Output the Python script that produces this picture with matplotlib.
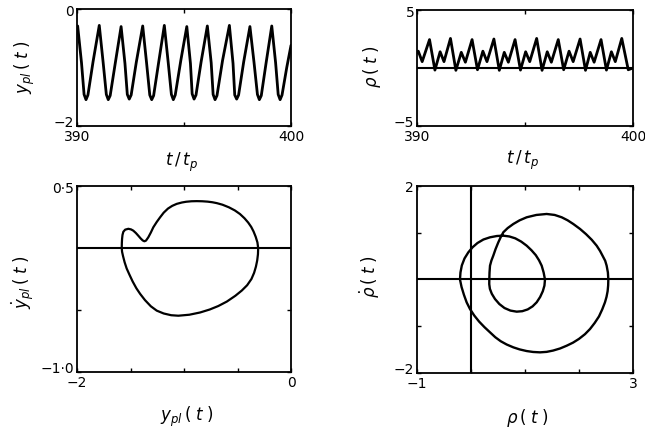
import numpy as np
import matplotlib.pyplot as plt
import matplotlib.transforms as mtransforms

plt.rcParams['font.family'] = ['DejaVu Sans']
plt.rcParams['mathtext.fontset'] = 'dejavusans'

# y_pl(t) time trace, t/t_p in [390, 400]
t_y = [390.00,
       390.03, 390.21, 390.33, 390.42, 390.51, 390.75,
       391.04, 391.22, 391.37, 391.46, 391.55, 391.79,
       392.06, 392.24, 392.35, 392.44, 392.53, 392.77,
       393.07, 393.25, 393.40, 393.49, 393.58, 393.82,
       394.08, 394.26, 394.41, 394.50, 394.59, 394.85,
       395.13, 395.30, 395.38, 395.47, 395.56, 395.80,
       396.09, 396.27, 396.36, 396.45, 396.54, 396.80,
       397.12, 397.29, 397.37, 397.46, 397.55, 397.79,
       398.08, 398.27, 398.43, 398.52, 398.61, 398.84,
       399.10, 399.28, 399.40, 399.49, 399.58, 399.80, 400.00]
y_pl = [-0.34,
        -0.29, -0.92, -1.46, -1.55, -1.47, -0.90,
        -0.28, -0.91, -1.46, -1.55, -1.48, -0.92,
        -0.30, -0.93, -1.46, -1.54, -1.47, -0.91,
        -0.29, -0.92, -1.47, -1.55, -1.48, -0.90,
        -0.28, -0.91, -1.46, -1.55, -1.47, -0.88,
        -0.30, -0.93, -1.45, -1.54, -1.47, -0.90,
        -0.29, -0.92, -1.46, -1.55, -1.48, -0.88,
        -0.28, -0.93, -1.47, -1.54, -1.47, -0.90,
        -0.30, -0.91, -1.46, -1.55, -1.48, -0.91,
        -0.29, -0.92, -1.46, -1.55, -1.47, -1.00, -0.62]

# rho(t) time trace
t_rho = [390.00, 390.06, 390.24,
         390.58, 390.83, 391.07, 391.25,
         391.55, 391.80, 392.05, 392.24,
         392.55, 392.80, 393.05, 393.24,
         393.56, 393.81, 394.04, 394.23,
         394.54, 394.79, 395.03, 395.22,
         395.54, 395.79, 396.03, 396.22,
         396.54, 396.79, 397.04, 397.23,
         397.55, 397.80, 398.02, 398.20,
         398.52, 398.77, 399.00, 399.18,
         399.48, 399.78, 400.00]
rho = [1.30, 1.45, 0.55,
       2.45, -0.18, 1.40, 0.55,
       2.55, -0.20, 1.35, 0.50,
       2.45, -0.15, 1.45, 0.55,
       2.50, -0.20, 1.35, 0.50,
       2.45, -0.18, 1.40, 0.55,
       2.55, -0.20, 1.40, 0.50,
       2.45, -0.15, 1.45, 0.55,
       2.50, -0.20, 1.35, 0.50,
       2.45, -0.18, 1.40, 0.55,
       2.55, -0.15, 0.00]

# phase portrait (y_pl, dy_pl/dt), clockwise from the left crossing
ph_y = [-1.582, -1.581, -1.579, -1.575, -1.567, -1.550, -1.520, -1.495, -1.474,
        -1.450, -1.427, -1.405, -1.386, -1.370, -1.355, -1.334, -1.310, -1.287,
        -1.255, -1.224, -1.190, -1.150, -1.110, -1.068, -1.020, -0.980, -0.930,
        -0.881, -0.830, -0.780, -0.735, -0.694, -0.640, -0.580, -0.525, -0.477,
        -0.435, -0.400, -0.372, -0.350, -0.330, -0.314, -0.307, -0.309, -0.316,
        -0.328, -0.345, -0.370, -0.410, -0.460, -0.520, -0.600, -0.680, -0.760,
        -0.850, -0.950, -1.053, -1.120, -1.190, -1.255, -1.310, -1.365, -1.410,
        -1.445, -1.480, -1.510, -1.536, -1.555, -1.570, -1.579, -1.582]
ph_dy = [0.000, 0.040, 0.073, 0.105, 0.131, 0.148, 0.155, 0.150, 0.140,
         0.121, 0.099, 0.077, 0.061, 0.054, 0.060, 0.086, 0.125, 0.167,
         0.210, 0.247, 0.285, 0.318, 0.340, 0.356, 0.367, 0.373, 0.377,
         0.378, 0.377, 0.374, 0.369, 0.362, 0.349, 0.328, 0.303, 0.274,
         0.240, 0.205, 0.170, 0.133, 0.090, 0.045, 0.000, -0.050, -0.100,
         -0.150, -0.200, -0.250, -0.300, -0.343, -0.385, -0.432, -0.468, -0.496,
         -0.520, -0.538, -0.546, -0.542, -0.528, -0.505, -0.470, -0.420, -0.370,
         -0.325, -0.270, -0.215, -0.165, -0.115, -0.065, -0.030, 0.000]

# phase portrait (rho, drho/dt), clockwise from the outer left crossing
ph_r = [-0.204, -0.195, -0.170, -0.120, -0.050, 0.030, 0.120, 0.230, 0.352,
        0.480, 0.599, 0.710, 0.820, 0.930, 1.031, 1.120, 1.200, 1.260,
        1.309, 1.345, 1.370, 1.360, 1.330, 1.280, 1.216, 1.140, 1.050,
        0.950, 0.846, 0.730, 0.620, 0.525, 0.444, 0.385, 0.350, 0.338,
        0.339, 0.343, 0.352, 0.378, 0.413, 0.455, 0.506, 0.550, 0.599,
        0.680, 0.784, 0.900, 1.031, 1.210, 1.401, 1.550, 1.680, 1.790,
        1.894, 2.020, 2.130, 2.235, 2.327, 2.390, 2.440, 2.485, 2.512,
        2.535, 2.543, 2.540, 2.530, 2.510, 2.481, 2.430, 2.370, 2.290,
        2.204, 2.110, 2.000, 1.890, 1.772, 1.650, 1.520, 1.400, 1.278,
        1.150, 1.030, 0.900, 0.784, 0.660, 0.550, 0.450, 0.352, 0.250,
        0.150, 0.060, -0.019, -0.080, -0.130, -0.175, -0.204]
ph_dr = [0.000, 0.150, 0.300, 0.450, 0.580, 0.690, 0.780, 0.855, 0.902,
         0.930, 0.937, 0.920, 0.880, 0.810, 0.723, 0.625, 0.520, 0.410,
         0.295, 0.150, 0.000, -0.130, -0.250, -0.375, -0.488, -0.575, -0.640,
         -0.678, -0.688, -0.665, -0.610, -0.525, -0.417, -0.305, -0.200, -0.100,
         0.000, 0.150, 0.295, 0.405, 0.510, 0.650, 0.795, 0.905, 1.010,
         1.100, 1.187, 1.265, 1.330, 1.380, 1.401, 1.380, 1.330, 1.265,
         1.187, 1.080, 0.970, 0.850, 0.723, 0.610, 0.500, 0.400, 0.295,
         0.150, 0.000, -0.125, -0.250, -0.370, -0.488, -0.640, -0.790, -0.930,
         -1.059, -1.170, -1.270, -1.350, -1.416, -1.475, -1.520, -1.548, -1.558,
         -1.550, -1.530, -1.495, -1.451, -1.390, -1.320, -1.235, -1.130, -1.020,
         -0.900, -0.770, -0.631, -0.490, -0.330, -0.160, 0.000]

fig = plt.figure(figsize=(6.45, 4.35), dpi=100)
ax1 = fig.add_axes([0.1194, 0.708, 0.3318, 0.269])
ax2 = fig.add_axes([0.6465, 0.708, 0.3349, 0.2667])
ax3 = fig.add_axes([0.1194, 0.1425, 0.3318, 0.4276])
ax4 = fig.add_axes([0.6465, 0.1402, 0.3349, 0.43])

style = dict(color='black', solid_joinstyle='round', solid_capstyle='round')

ax1.plot(t_y, y_pl, lw=2.0, **style)
ax2.plot(t_rho, rho, lw=2.0, **style)
ax2.axhline(0, color='black', lw=1.5)
ax3.plot(ph_y, ph_dy, lw=1.6, **style)
ax3.axhline(0, color='black', lw=1.5)
ax4.plot(ph_r, ph_dr, lw=1.7, **style)
ax4.axhline(0, color='black', lw=1.5)
ax4.axvline(0, color='black', lw=1.5)

ax1.set_xlim(390, 400); ax1.set_ylim(-2, 0)
ax2.set_xlim(390, 400); ax2.set_ylim(-5, 5)
ax3.set_xlim(-2, 0); ax3.set_ylim(-1.0, 0.5)
ax4.set_xlim(-1, 3); ax4.set_ylim(-2, 2)

ax1.set_xticks([390, 395, 400], ['390', '', '400'])
ax1.set_yticks([-2, 0], ['\u22122', '0'])
ax2.set_xticks([390, 395, 400], ['390', '', '400'])
ax2.set_yticks([-5, 5], ['\u22125', '5'])
ax3.set_xticks([-2, -1.5, -1, -0.5, 0], ['\u22122', '', '', '', '0'])
ax3.set_yticks([-1.0, -0.5, 0.5], ['\u22121\u00b70', '', '0\u00b75'])
ax4.set_xticks([-1, 0, 1, 2, 3], ['\u22121', '', '', '', '3'])
ax4.set_yticks([-2, -1, 1, 2], ['\u22122', '', '', '2'])

for ax in (ax1, ax2, ax3, ax4):
    for sp in ax.spines.values():
        sp.set_linewidth(1.3)
    ax.tick_params(direction='in', length=3, width=1, labelsize=10, pad=2,
                   top=True, right=True)
    # lift the bottom y label a little so it sits above the x corner label
    lab = ax.get_yticklabels()[0]
    lab.set_transform(lab.get_transform() +
                      mtransforms.ScaledTranslation(0, 4 / 72, fig.dpi_scale_trans))

fs = 12
ax1.set_xlabel(r'$t\,/\,t_p$', fontsize=fs)
ax1.set_ylabel(r'$y_{pl}\,(\;t\;)$', fontsize=fs)
ax2.set_xlabel(r'$t\,/\,t_p$', fontsize=fs)
ax2.set_ylabel(r'$\rho\,(\;t\;)$', fontsize=fs)
ax3.set_xlabel(r'$y_{pl}\,(\;t\;)$', fontsize=fs)
ax3.set_ylabel(r'$\dot{y}_{pl}\,(\;t\;)$', fontsize=fs)
ax4.set_xlabel(r'$\rho\,(\;t\;)$', fontsize=fs)
ax4.set_ylabel(r'$\dot{\rho}\,(\;t\;)$', fontsize=fs)

ax1.xaxis.set_label_coords(0.49, -0.30)
ax1.yaxis.set_label_coords(-0.243, 0.51)
ax2.xaxis.set_label_coords(0.49, -0.285)
ax2.yaxis.set_label_coords(-0.21, 0.52)
ax3.xaxis.set_label_coords(0.51, -0.235)
ax3.yaxis.set_label_coords(-0.252, 0.49)
ax4.xaxis.set_label_coords(0.51, -0.235)
ax4.yaxis.set_label_coords(-0.218, 0.52)
for ax in (ax1, ax2, ax3, ax4):
    ax.xaxis.label.set_va('center')
    ax.yaxis.label.set_va('center')

fig.savefig('out.png', dpi=100)
